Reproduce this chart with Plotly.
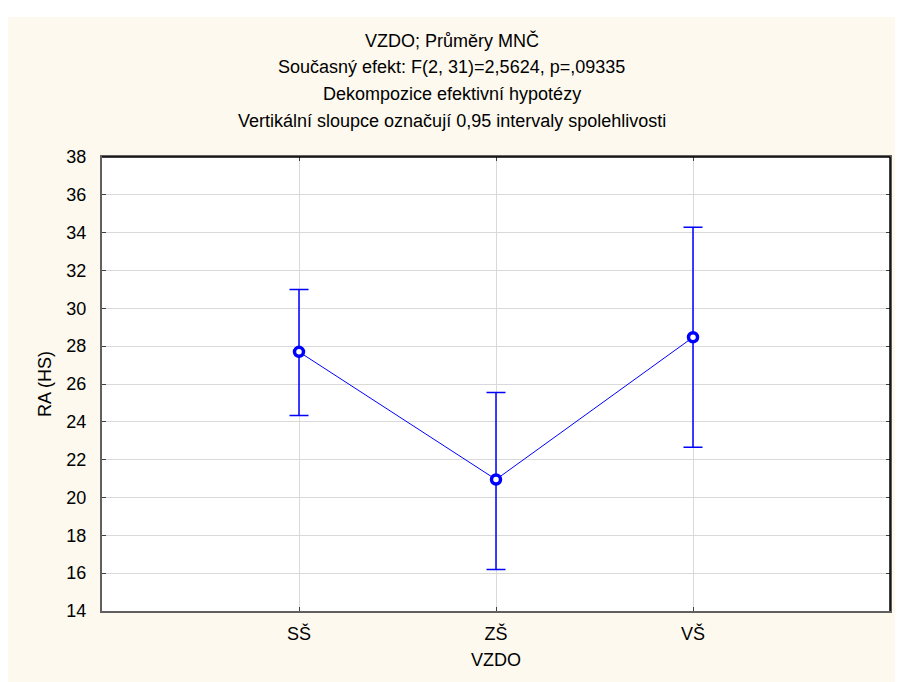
import plotly.graph_objects as go

# Data
categories = ["SŠ", "ZŠ", "VŠ"]
cat_pos = [1, 2, 3]
means = [27.7, 20.95, 28.47]
upper = [31.0, 25.55, 34.28]
lower = [24.33, 16.2, 22.65]
y_ticks = list(range(14, 39, 2))

title_lines = [
    "VZDO; Průměry MNČ",
    "Současný efekt: F(2, 31)=2,5624, p=,09335",
    "Dekompozice efektivní hypotézy",
    "Vertikální sloupce označují 0,95 intervaly spolehlivosti",
]

# page has 8px body margin -> work in figure coordinates (window - 8)
OFF = 8
W, H = 903 - OFF, 682 - OFF
L, T = 102 - OFF, 157 - OFF
R = W - (890 - OFF)
B = H - (611 - OFF)
pw, ph = W - L - R, H - T - B

def px_x(p):  # window pixel -> paper
    return (p - OFF - L) / pw

def px_y(p):
    return (H - B - (p - OFF)) / ph

err_plus = [u - m for u, m in zip(upper, means)]
err_minus = [m - l for m, l in zip(means, lower)]

BLUE = "#0000FF"
CREAM = "#FDF9EE"
FONT = "Arial, Liberation Sans, sans-serif"
FS = 18

fig = go.Figure()
fig.add_trace(go.Scatter(
    x=cat_pos, y=means, mode="lines+markers",
    line=dict(color=BLUE, width=1),
    marker=dict(symbol="circle", size=9, color="white",
                line=dict(color=BLUE, width=3.5)),
    error_y=dict(type="data", symmetric=False, array=err_plus,
                 arrayminus=err_minus, color=BLUE, thickness=1.5, width=9.5),
    showlegend=False, hoverinfo="skip",
))

fig.update_layout(
    width=W, height=H,
    margin=dict(l=L, r=R, t=T, b=B),
    paper_bgcolor=CREAM, plot_bgcolor="white",
    font=dict(family=FONT, size=FS, color="black"),
    showlegend=False,
)

fig.update_xaxes(
    range=[0, 4], tickvals=cat_pos, ticktext=categories,
    showgrid=True, gridcolor="#D9D9D9", gridwidth=1,
    showline=True, linecolor="#606060", linewidth=2, mirror="ticks",
    ticks="inside", ticklen=4, tickcolor="#404040",
    ticklabelstandoff=5, zeroline=False,
    tickfont=dict(family=FONT, size=FS, color="black"),
)
fig.update_yaxes(
    range=[14, 38], tickvals=y_ticks,
    showgrid=True, gridcolor="#D9D9D9", gridwidth=1,
    showline=True, linecolor="#606060", linewidth=2, mirror="ticks",
    ticks="inside", ticklen=4, tickcolor="#404040",
    ticklabelstandoff=10, zeroline=False,
    tickfont=dict(family=FONT, size=FS, color="black"),
)

# Title lines (window pixel centres)
title_y = [40, 67, 94, 121]
for txt, yy in zip(title_lines, title_y):
    fig.add_annotation(text=txt, xref="paper", yref="paper",
                       x=px_x(451.5), y=px_y(yy), xanchor="center", yanchor="middle",
                       showarrow=False, font=dict(family=FONT, size=FS, color="black"))

# Axis titles
fig.add_annotation(text="VZDO", xref="paper", yref="paper",
                   x=0.5, y=px_y(660), xanchor="center", yanchor="middle",
                   showarrow=False, font=dict(family=FONT, size=FS, color="black"))
fig.add_annotation(text="RA (HS)", xref="paper", yref="paper",
                   x=px_x(45), y=0.5, xanchor="center", yanchor="middle", textangle=-90,
                   showarrow=False, font=dict(family=FONT, size=FS, color="black"))

# white strip at top (window y < 17)
fig.add_shape(type="rect", xref="paper", yref="paper",
              x0=px_x(-5), x1=px_x(910), y0=px_y(17), y1=px_y(-5),
              fillcolor="white", line=dict(width=0), layer="above")
# black right/top frame
fig.add_shape(type="line", xref="paper", yref="paper",
              x0=1, x1=1, y0=0, y1=1, line=dict(color="black", width=1.5), layer="above")
fig.add_shape(type="line", xref="paper", yref="paper",
              x0=0, x1=1, y0=1, y1=1, line=dict(color="black", width=1.5), layer="above")

fig.write_html("out.html")
